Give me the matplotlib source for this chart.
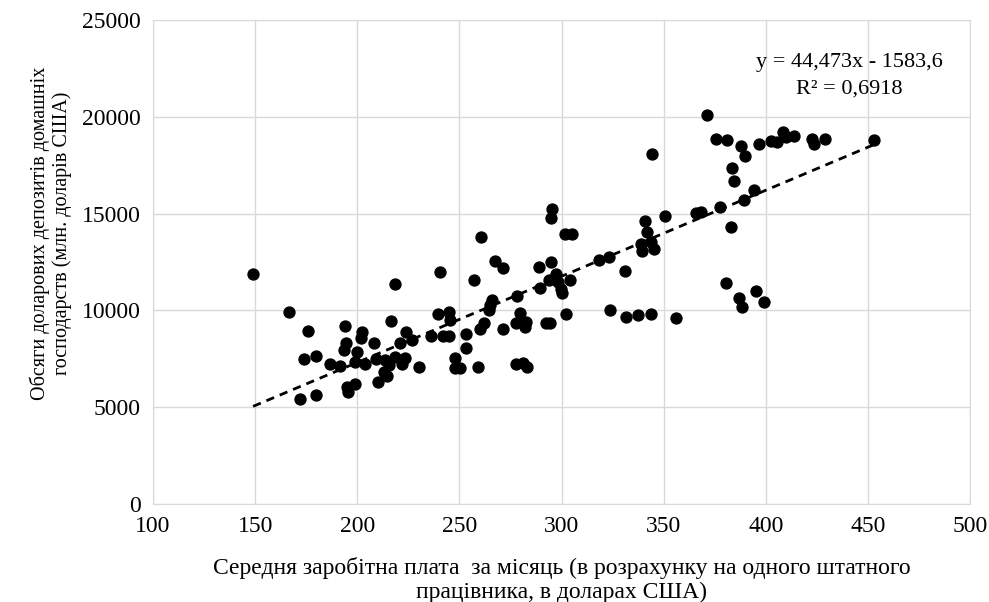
import numpy as np
import matplotlib.pyplot as plt

plt.rcParams['font.family'] = ['Liberation Serif', 'DejaVu Serif']

# wage (USD / month) vs household USD deposits (mln USD)
wage = [149, 166.5, 176, 194, 174, 180, 186.5, 191.5, 194.5, 193.5,
        199, 200, 202, 195, 195.5, 199, 172, 180, 202.3, 208,
        204, 209, 213.7, 218.6, 223.5, 215.4, 213, 214.6, 210.4, 218.6,
        216.7, 224, 220.7, 226.8, 222, 230, 240.7, 239.6, 245.1, 245.6,
        236.3, 241.8, 244.8, 253.4, 253.3, 247.7, 247.7, 250.5, 259, 260.8,
        295.4, 294.9, 301.5, 305.2, 267.6, 271.4, 288.9, 294.9, 257.4, 297.5,
        293.8, 298.2, 304.1, 299.9, 300.3, 289.4, 278, 266, 265.2, 264.4,
        279.9, 302, 277.5, 282.4, 281.9, 292.2, 294.6, 261.9, 260.3, 271.4,
        277.5, 281.2, 283.2, 340.8, 350.5, 342, 338.7, 339.5, 343.6, 345.3,
        318.3, 323.2, 331, 365.7, 368.1, 323.5, 331.7, 337.6, 343.6, 355.9,
        371.1, 375.5, 381.2, 388.1, 389.7, 396.7, 402.5, 405.7, 408.2, 409.8,
        413.6, 383.7, 384.5, 394.1, 389.4, 377.6, 382.8, 380.4, 386.9, 395.1,
        388.6, 398.9, 422.5, 423.4, 429.1, 453.1, 344.5]
deposits = [11900, 9900, 8930, 9200, 7510, 7670, 7250, 7110, 8320, 7970,
            7320, 7850, 8560, 6050, 5790, 6220, 5410, 5650, 8880, 8320,
            7250, 7510, 7420, 7600, 7560, 7170, 6820, 6600, 6310, 11380,
            9450, 8880, 8320, 8450, 7250, 7080, 11980, 9830, 9910, 9490,
            8660, 8660, 8660, 8760, 8060, 7560, 7030, 7030, 7080, 13780,
            15240, 14780, 13920, 13920, 12540, 12200, 12230, 12490, 11580, 11860,
            11580, 11460, 11580, 11120, 10890, 11170, 10720, 10550, 10260, 10000,
            9860, 9830, 9350, 9400, 9140, 9360, 9360, 9350, 9060, 9060,
            7250, 7290, 7080, 14640, 14850, 14040, 13440, 13090, 13520, 13180,
            12610, 12750, 12060, 15020, 15070, 10000, 9660, 9780, 9830, 9620,
            20100, 18850, 18800, 18510, 17990, 18590, 18760, 18680, 19190, 18940,
            19020, 17350, 16700, 16220, 15700, 15360, 14330, 11410, 10650, 10980,
            10170, 10410, 18850, 18620, 18850, 18800, 18100]

slope = 44.473
intercept = -1583.6
r2 = 0.6918

fig = plt.figure(figsize=(9.89, 6.02), dpi=100)
ax = fig.add_axes([0.1547, 0.1628, 0.8261, 0.804])

ax.scatter(wage, deposits, s=62, color='black', zorder=3)

# linear trend line (coefficients as shown on the chart)
xs = np.array([min(wage), max(wage)])
ax.plot(xs, slope * xs + intercept, color='black', lw=2, ls=(0, (3, 2.2)), zorder=4)

ax.text(440.7, 22780, 'y = 44,473x - 1583,6', ha='center', va='center', fontsize=16)
ax.text(440.7, 21450, 'R² = ' + f'{r2}'.replace('.', ','), ha='center', va='center', fontsize=16)

ax.set_xlim(100, 500)
ax.set_ylim(0, 25000)
ax.set_xticks(range(100, 501, 50))
ax.set_yticks(range(0, 25001, 5000))
ax.grid(color='#d9d9d9', lw=1)
ax.set_axisbelow(True)
for s in ax.spines.values():
    s.set_color('#d9d9d9')
ax.tick_params(length=0, labelsize=17, pad=9)

ax.set_xlabel('Середня заробітна плата  за місяць (в розрахунку на одного штатного\nпрацівника, в доларах США)',
              fontsize=17, labelpad=14, linespacing=1.15)
ax.set_ylabel('Обсяги доларових депозитів домашніх\nгосподарств (млн. доларів США)',
              fontsize=14.5, linespacing=1.15)
ax.yaxis.set_label_coords(-0.099, 0.56)

fig.savefig('out.png', dpi=100)
